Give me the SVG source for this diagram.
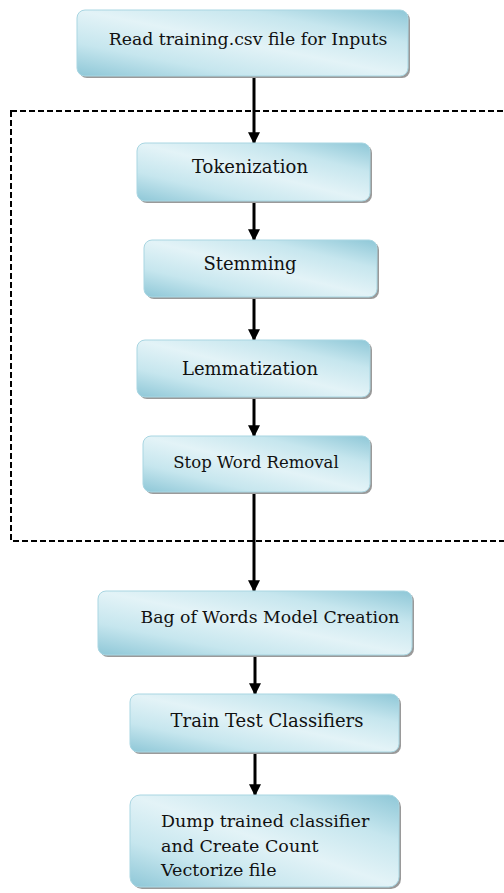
<svg xmlns="http://www.w3.org/2000/svg" width="504" height="893" viewBox="0 0 504 893">
<defs>
<linearGradient id="g" x1="0" y1="1" x2="1" y2="0">
<stop offset="0" stop-color="#8ec7d7"/>
<stop offset="0.25" stop-color="#c6e6ee"/>
<stop offset="0.5" stop-color="#e3f3f7"/>
<stop offset="0.75" stop-color="#c6e6ee"/>
<stop offset="1" stop-color="#8ec7d7"/>
</linearGradient>
<marker id="ah" viewBox="0 0 10 10" refX="9" refY="5" markerWidth="4" markerHeight="4" orient="auto" markerUnits="strokeWidth">
<path d="M0,0 L10,5 L0,10 z" fill="#000"/>
</marker>
</defs>
<style>
.sh{fill:#9a9a9a;}
.bx{fill:url(#g);stroke:#a9d6e2;stroke-width:1;}
text{font-family:'DejaVu Serif',serif;fill:#111;}
.t{font-size:18px;text-anchor:middle;}
.ts{font-size:17.3px;text-anchor:middle;}
.t2{font-size:16.5px;text-anchor:middle;}
.tl{font-size:17.5px;}
.c{stroke:#000;stroke-width:3;fill:none;marker-end:url(#ah);}
</style>
<rect x="0" y="0" width="504" height="893" fill="#fff"/>
<rect id="group-box" x="11" y="111" width="500" height="430" fill="none" stroke="#000" stroke-width="2" stroke-dasharray="6 3"/>
<g id="connectors">
<line class="c" x1="254" y1="77" x2="254" y2="143"/>
<line class="c" x1="254" y1="202" x2="254" y2="240"/>
<line class="c" x1="254" y1="298" x2="254" y2="340"/>
<line class="c" x1="254" y1="398" x2="254" y2="436"/>
<line class="c" x1="254" y1="493" x2="254" y2="591"/>
<line class="c" x1="255" y1="656" x2="255" y2="694"/>
<line class="c" x1="255" y1="753" x2="255" y2="795"/>
</g>
<g id="n1">
<rect class="sh" x="79" y="12" width="331" height="66" rx="8"/>
<rect class="bx" x="77" y="10" width="331" height="66" rx="8"/>
<text class="ts" x="248" y="45">Read training.csv file for Inputs</text>
</g>
<g id="n2">
<rect class="sh" x="139" y="145" width="233" height="58" rx="8"/>
<rect class="bx" x="137" y="143" width="233" height="58" rx="8"/>
<text class="t" x="250" y="173">Tokenization</text>
</g>
<g id="n3">
<rect class="sh" x="146" y="242" width="233" height="57" rx="8"/>
<rect class="bx" x="144" y="240" width="233" height="57" rx="8"/>
<text class="t" x="250" y="270">Stemming</text>
</g>
<g id="n4">
<rect class="sh" x="139" y="342" width="233" height="57" rx="8"/>
<rect class="bx" x="137" y="340" width="233" height="57" rx="8"/>
<text class="t" x="250" y="375">Lemmatization</text>
</g>
<g id="n5">
<rect class="sh" x="145" y="438" width="227" height="56" rx="8"/>
<rect class="bx" x="143" y="436" width="227" height="56" rx="8"/>
<text class="t2" x="256" y="468">Stop Word Removal</text>
</g>
<g id="n6">
<rect class="sh" x="100" y="593" width="314" height="64" rx="8"/>
<rect class="bx" x="98" y="591" width="314" height="64" rx="8"/>
<text class="ts" x="270" y="623">Bag of Words Model Creation</text>
</g>
<g id="n7">
<rect class="sh" x="132" y="696" width="269" height="58" rx="8"/>
<rect class="bx" x="130" y="694" width="269" height="58" rx="8"/>
<text class="t" x="267" y="727">Train Test Classifiers</text>
</g>
<g id="n8">
<rect class="sh" x="132" y="797" width="269" height="92" rx="10"/>
<rect class="bx" x="130" y="795" width="269" height="92" rx="10"/>
<text class="tl" x="161" y="827">Dump trained classifier</text>
<text class="tl" x="161" y="852">and Create Count</text>
<text class="tl" x="161" y="876">Vectorize file</text>
</g>
</svg>
